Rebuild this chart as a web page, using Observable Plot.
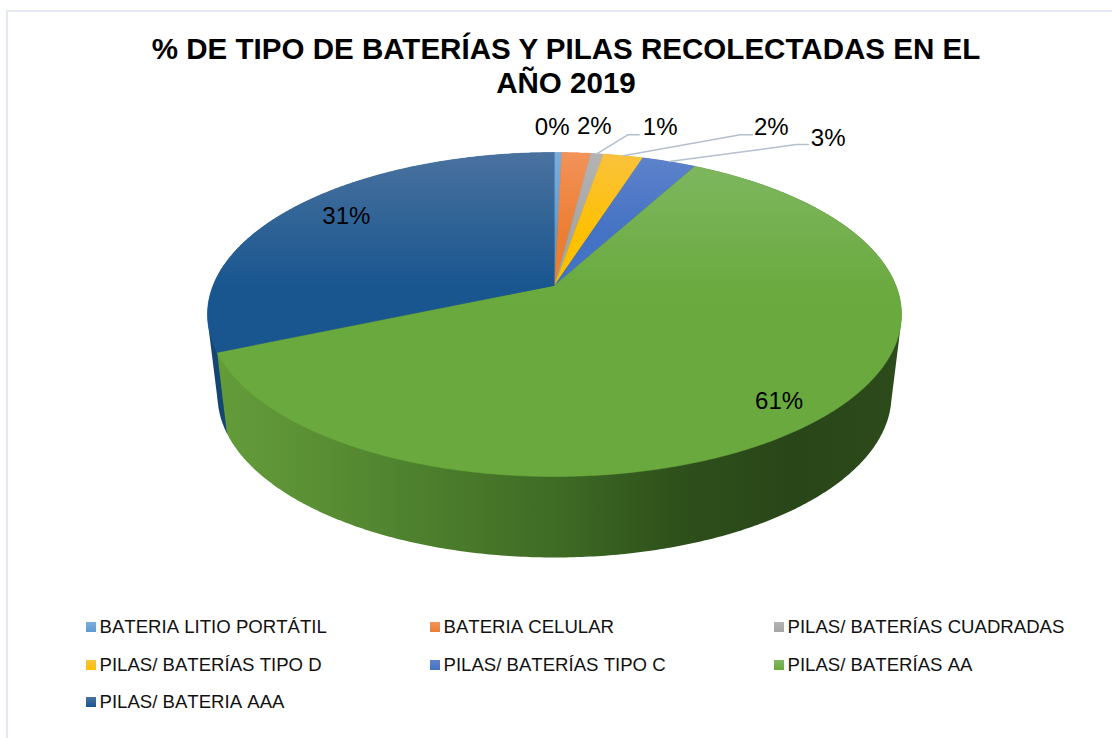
<!DOCTYPE html>
<html><head><meta charset="utf-8">
<style>
html,body{margin:0;padding:0;background:#fff}
#page{position:relative;width:1112px;height:738px;overflow:hidden;font-family:"Liberation Sans",Arial,sans-serif;color:#000}
#frame{position:absolute;left:6px;top:10px;width:1200px;height:900px;border:2px solid #e4e8f0;box-sizing:border-box}
#title{position:absolute;left:0;top:32px;width:1132px;text-align:center;font-weight:bold;font-size:29.55px;line-height:34px}
#chart{position:absolute;left:0;top:0}
.item{position:absolute;font-size:18.6px;line-height:20px;white-space:nowrap;color:#111;font-kerning:none}
.sw{position:absolute;width:10px;height:10px}
</style>
<script src="https://cdn.jsdelivr.net/npm/d3@7"></script>
<script src="https://cdn.jsdelivr.net/npm/@observablehq/plot@0.6"></script>
</head><body>
<div id="page"><div id="frame"></div><div id="chart"></div>
<div id="title">% DE TIPO DE BATERÍAS Y PILAS RECOLECTADAS EN EL<br>AÑO 2019</div>
<div id="legend"></div></div>
<script>
const categories = ["BATERIA LITIO PORTÁTIL","BATERIA CELULAR","PILAS/ BATERÍAS CUADRADAS","PILAS/ BATERÍAS TIPO D","PILAS/ BATERÍAS TIPO C","PILAS/ BATERÍAS AA","PILAS/ BATERIA AAA"];
const values = [0.4,1.6,0.7,2.2,3.0,60.61,31.49];
const topLight = ["#79aedd","#f2935a","#b4b4b4","#f9c23e","#5f83cb","#80b862","#4a729f"];
const topBase  = ["#5b9bd5","#ed7d31","#a5a5a5","#ffc000","#4472c4","#69a93d","#19568f"];
const wallStops = [[0,"#649c3a"],[.12,"#5c9236"],[.28,"#4f822e"],[.5,"#3f6b25"],[.68,"#2e501b"],[.85,"#294618"],[1,"#2c4a1a"]];
// label placement: inner labels use a radius fraction, outer ones the rim; then an offset
const labelRadius = [1,1,1,1,1,0.87,0.79];
const labelOffset = [[-6,-25],[18,-27],[63,-26],[148,-28],[159,-23],[-2,2],[1,-6]];
const leaderElbow = [null,null,[[31,-19],[42,-19]],[[117,-21],[129,-21]],[[127,-17],[139,-17]],null,null];

// pie geometry (perspective view of a disc)
const cx=554, cy=285, W=341.4, H=156.8, P=0.179, depth=81, shrink=0.971;
const project=(th,r=1)=>{const d=1+P*r*Math.cos(th);return [cx+W*r*Math.sin(th)/d, cy-H*r*Math.cos(th)/d];};
const lower=([x,y])=>[cx+(x-cx)*shrink,y+depth];
const total=d3.sum(values);
let acc=0;
const slices=values.map((v,i)=>{const a0=acc/total*2*Math.PI;acc+=v;const a1=acc/total*2*Math.PI;return {i,v,a0,a1,mid:(a0+a1)/2};});
const arc=s=>{const n=Math.max(3,Math.ceil((s.a1-s.a0)/0.01));return d3.range(n+1).map(k=>s.a0+(s.a1-s.a0)*k/n);};

const wallPts=[], topPts=[];
[6,0,1,2,3,4,5].forEach(i=>{const s=slices[i];
  const paint=i===5?"url(#wallAA)":"url(#wall"+i+")";
  const rim=arc(s).map(t=>project(t));
  d3.polygonHull([...rim,...rim.map(lower)]).forEach(p=>wallPts.push({x:p[0],y:p[1],id:i,paint}));
});
slices.forEach(s=>{const paint="url(#top"+s.i+")";
  [[cx,cy],...arc(s).map(t=>project(t))].forEach(p=>topPts.push({x:p[0],y:p[1],id:s.i,paint}));
});
const labels=slices.map(s=>{const p=project(s.mid,labelRadius[s.i]),o=labelOffset[s.i];
  return {x:p[0]+o[0],y:p[1]+o[1],t:String(Math.round(s.v))+"%"};});
const leaders=[];
slices.forEach(s=>{const e=leaderElbow[s.i];if(!e)return;const p=project(s.mid);
  [p,[p[0]+e[0][0],p[1]+e[0][1]],[p[0]+e[1][0],p[1]+e[1][1]]].forEach(q=>leaders.push({x:q[0],y:q[1],id:s.i}));});

const defs=()=>{const d=d3.create("svg:defs");
  topBase.forEach((c,i)=>{const g=d.append("linearGradient").attr("id","top"+i).attr("gradientUnits","userSpaceOnUse").attr("x1",0).attr("x2",0).attr("y1",150).attr("y2",i===6?285:(i===5?300:235));
    g.append("stop").attr("offset",0).attr("stop-color",topLight[i]);g.append("stop").attr("offset",1).attr("stop-color",c);
    const w=d.append("linearGradient").attr("id","wall"+i).attr("gradientUnits","userSpaceOnUse").attr("x1",200).attr("x2",900).attr("y1",0).attr("y2",0);
    w.append("stop").attr("offset",0).attr("stop-color",d3.color(c).darker(0.6).formatHex());});
  const w=d.append("linearGradient").attr("id","wallAA").attr("gradientUnits","userSpaceOnUse").attr("x1",216).attr("x2",895).attr("y1",0).attr("y2",0);
  wallStops.forEach(([o,c])=>w.append("stop").attr("offset",o).attr("stop-color",c));
  return d.node();};

const chart=Plot.plot({width:1112,height:738,margin:0,
  x:{domain:[0,1112],range:[0,1112],axis:null},y:{domain:[0,738],range:[0,738],axis:null},
  color:{type:"identity"},
  style:{background:"transparent",fontFamily:'"Liberation Sans",Arial,sans-serif'},
  marks:[defs,
    Plot.line(wallPts,{x:"x",y:"y",z:"id",fill:"paint",stroke:"none"}),
    Plot.line(topPts,{x:"x",y:"y",z:"id",fill:"paint",stroke:"paint",strokeWidth:0.5}),
    Plot.line(leaders,{x:"x",y:"y",z:"id",stroke:"#b4bfcf",strokeWidth:1.5}),
    Plot.text(labels,{x:"x",y:"y",text:"t",fontSize:24,fill:"#000",textAnchor:"middle",lineAnchor:"middle"})
  ]});
document.getElementById("chart").appendChild(chart);

const colX=[86,430,774], rowY=[627,665,702];
const leg=document.getElementById("legend");
categories.forEach((c,i)=>{const x=colX[i%3],y=rowY[Math.floor(i/3)];
  const s=document.createElement("div");s.className="sw";s.style.left=x+"px";s.style.top=(y-5)+"px";
  s.style.background=`linear-gradient(${topLight[i]},${topBase[i]})`;leg.appendChild(s);
  const t=document.createElement("div");t.className="item";t.textContent=c;t.style.left=(x+13.5)+"px";t.style.top=(y-10)+"px";leg.appendChild(t);});
</script></body></html>
